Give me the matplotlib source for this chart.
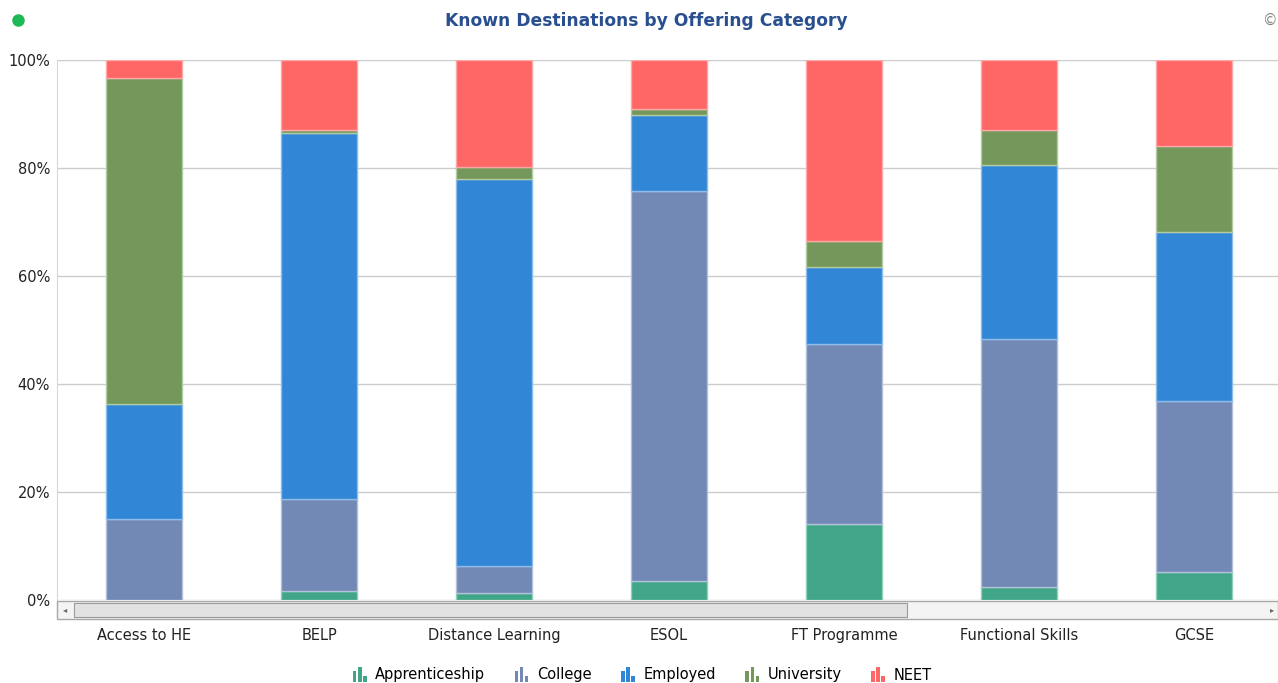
import numpy as np
import matplotlib.pyplot as plt
from matplotlib.patches import Rectangle
from matplotlib.legend_handler import HandlerBase

# Data (percent of known destinations)
categories = ["Access to HE", "BELP", "Distance Learning", "ESOL",
              "FT Programme", "Functional Skills", "GCSE"]
apprenticeship = [0.0, 1.7, 1.3, 3.5, 14.1, 2.4, 5.2]
college = [15.0, 17.0, 5.0, 72.2, 33.3, 45.9, 31.7]
employed = [21.3, 67.8, 71.7, 14.1, 14.3, 32.3, 31.2]
university = [60.4, 0.5, 2.2, 1.1, 4.8, 6.4, 16.0]
neet = [3.3, 13.0, 19.8, 9.1, 33.5, 13.0, 15.9]

series_names = ["Apprenticeship", "College", "Employed", "University", "NEET"]
series_values = [apprenticeship, college, employed, university, neet]
colors = ["#40a687", "#7289b5", "#3286d6", "#74975b", "#ff6666"]
edges = ["#8fd0bb", "#b4c1da", "#8dbcec", "#b3cba1", "#ffa8a8"]

plt.rcParams["font.family"] = ["DejaVu Sans"]


class MiniBarHandler(HandlerBase):
    """little three-bar icon like the legend of the original widget"""

    def create_artists(self, legend, orig_handle, xdescent, ydescent,
                       width, height, fontsize, trans):
        col = orig_handle.get_facecolor()
        bw = width * 0.2
        arts = []
        for i, h in enumerate([1.0, 1.45, 0.55]):
            x0 = xdescent + width * 0.15 + i * bw * 1.45
            r = Rectangle((x0, -ydescent - height * 0.2), bw, height * h,
                          facecolor=col, edgecolor="none", transform=trans)
            arts.append(r)
        return arts


fig = plt.figure(figsize=(12.78, 6.83), dpi=100)
ax = fig.add_axes([0.0446, 0.1215, 0.9580, 0.7906])

x = np.arange(len(categories))
bottom = np.zeros(len(categories))
handles = []
for name, vals, c, ec in zip(series_names, series_values, colors, edges):
    vals = np.array(vals)
    ax.bar(x, vals, width=0.434, bottom=bottom, color=c,
           edgecolor=ec, linewidth=1.0, label=name, zorder=3)
    handles.append(Rectangle((0, 0), 1, 1, facecolor=c))
    bottom += vals

ax.set_xlim(-0.5, 6.5)
ax.set_ylim(0, 100)
ax.set_yticks(np.arange(0, 101, 20))
ax.set_yticklabels([f"{v}%" for v in range(0, 101, 20)], fontsize=10.5,
                   color="#222222")
ax.set_xticks(x)
ax.set_xticklabels(categories, fontsize=10.5, color="#222222")
ax.tick_params(axis="both", length=0)
ax.tick_params(axis="x", pad=20)
ax.tick_params(axis="y", pad=5)
ax.grid(axis="y", color="#cccccc", linewidth=1.0, zorder=0)
for side in ["top", "right", "bottom"]:
    ax.spines[side].set_visible(False)
ax.spines["left"].set_color("#d8d8d8")

# scrollbar under the plot area
W, H = 1278.0, 683.0
def fx(px):
    return px / W
def fy(py):
    return 1 - py / H

fig.patches.append(Rectangle((fx(57), fy(619)), fx(1278) - fx(57),
                             fy(601) - fy(619), transform=fig.transFigure,
                             facecolor="#f4f4f4", edgecolor="#a8a8a8",
                             linewidth=1.0))
fig.patches.append(Rectangle((fx(74), fy(617)), fx(907) - fx(74),
                             fy(603) - fy(617), transform=fig.transFigure,
                             facecolor="#e2e2e2", edgecolor="#9a9a9a",
                             linewidth=0.8))
fig.text(fx(65), fy(610), "◂", fontsize=6, color="#666666",
         ha="center", va="center")
fig.text(fx(1272), fy(610), "▸", fontsize=6, color="#666666",
         ha="center", va="center")

# title, status dot and copyright mark
fig.text(fx(646), fy(21), "Known Destinations by Offering Category",
         fontsize=12.3, fontweight="bold", color="#2a4f8f",
         ha="center", va="center")
fig.add_artist(plt.Line2D([fx(18)], [fy(20)], marker="o", markersize=8,
                          color="#1db954", transform=fig.transFigure))
fig.text(fx(1270), fy(20), "©", fontsize=10.5, color="#888888",
         ha="center", va="center")

fig.legend(handles, series_names, handler_map={Rectangle: MiniBarHandler()},
           loc="center", bbox_to_anchor=(fx(641), fy(675)), ncol=5,
           frameon=False, fontsize=10.5, handlelength=1.2, handletextpad=0.5,
           columnspacing=1.85)

fig.savefig("out.png", dpi=100)
